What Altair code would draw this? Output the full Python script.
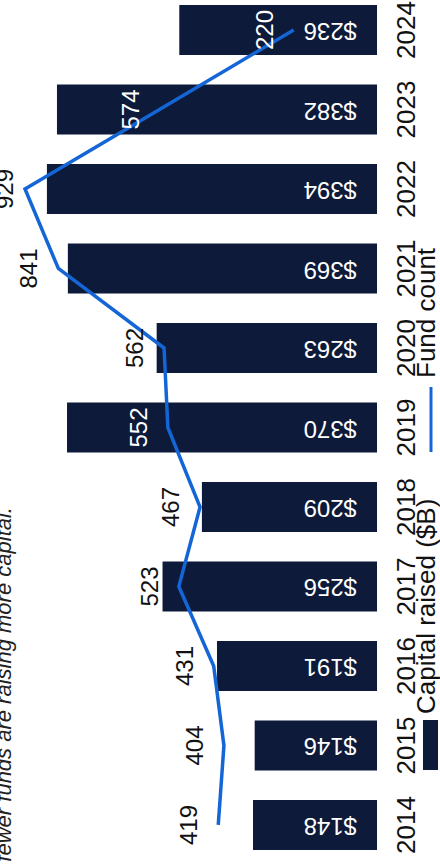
import altair as alt
import pandas as pd

# ---- data ----
years = ["2014", "2015", "2016", "2017", "2018", "2019", "2020", "2021", "2022", "2023", "2024"]
capital_raised = [148, 146, 191, 256, 209, 370, 263, 369, 394, 382, 236]
fund_count = [419, 404, 431, 523, 467, 552, 562, 841, 929, 574, 220]

legend_labels = ["Capital raised ($B)", "Fund count"]
note_text = "fewer funds are raising more capital."

# ---- layout / style ----
CAP_MAX = 445
COUNT_MAX = 995
LABEL_CLAMP = 905  # keep count labels inside the plot area
PLOT_W = 377
PLOT_H = 855
NAVY = "#0d1a39"
BLUE = "#1466d6"
FONT = "Liberation Sans"
INK = "#111111"

df = pd.DataFrame({"year": years, "capital": capital_raised, "funds": fund_count})

Y = alt.Y(
    "year:N",
    sort="descending",
    title=None,
    scale=alt.Scale(paddingInner=0.371, paddingOuter=0.063),
    axis=alt.Axis(
        orient="right", labelAngle=270, labelAlign="center", labelBaseline="top",
        labelPadding=16, ticks=False, domain=False, grid=False,
        labelFont=FONT, labelFontSize=26, labelColor=INK,
    ),
)

x_cap = alt.X("capital:Q", scale=alt.Scale(domain=[0, CAP_MAX], reverse=True), axis=None)
cnt_scale = alt.Scale(domain=[0, COUNT_MAX], reverse=True)
x_cnt = alt.X("funds:Q", scale=cnt_scale, axis=None)

base = alt.Chart(df)

bars = base.mark_bar(color=NAVY).encode(y=Y, x=x_cap)
bar_text = base.mark_text(
    angle=180, align="left", baseline="middle", dx=20,
    font=FONT, fontSize=24, color="white",
).encode(y=Y, x=alt.datum(0), text=alt.Text("capital:Q", format="$d"))

line = base.mark_line(color=BLUE, strokeWidth=3.5).encode(
    y=Y, x=x_cnt, order=alt.Order("year:O")
)
cnt_text = base.transform_calculate(
    inside=f"{PLOT_W}*(1-datum.funds/{COUNT_MAX}) - 22 > {PLOT_W}*(1-datum.capital/{CAP_MAX})",
    labpos=f"min(datum.funds, {LABEL_CLAMP})",
).mark_text(
    angle=270, align="center", baseline="alphabetic", dy=-21,
    font=FONT, fontSize=24,
).encode(
    y=Y,
    x=alt.X("labpos:Q", scale=cnt_scale, axis=None),
    text="funds:Q",
    color=alt.condition("datum.inside", alt.value("white"), alt.value(INK)),
)

one = pd.DataFrame({"k": [0]})
note = alt.Chart(one).mark_text(
    angle=270, align="right", baseline="alphabetic", font=FONT, fontSize=22,
    fontStyle="italic", color="#222222", text=note_text,
).encode(x=alt.value(11), y=alt.value(507))

leg_rect = alt.Chart(one).mark_rect(color=NAVY).encode(
    x=alt.value(423), x2=alt.value(438), y=alt.value(720), y2=alt.value(770)
)
leg_line = alt.Chart(one).mark_rule(color=BLUE, strokeWidth=3).encode(
    x=alt.value(431), y=alt.value(387), y2=alt.value(452)
)
leg_t1 = alt.Chart(one).mark_text(
    angle=270, align="left", baseline="alphabetic", font=FONT, fontSize=26,
    color=INK, text=legend_labels[0],
).encode(x=alt.value(435), y=alt.value(714))
leg_t2 = alt.Chart(one).mark_text(
    angle=270, align="left", baseline="alphabetic", font=FONT, fontSize=26,
    color=INK, text=legend_labels[1],
).encode(x=alt.value(435), y=alt.value(378))

chart = alt.layer(
    alt.layer(bars, bar_text),
    alt.layer(line, cnt_text),
    note, leg_rect, leg_line, leg_t1, leg_t2,
).resolve_scale(x="independent").properties(
    width=PLOT_W, height=PLOT_H,
    padding={"left": 0, "right": 63, "top": 0, "bottom": 10},
    autosize=alt.AutoSizeParams(type="none"),
    background="white",
).configure_view(stroke=None)

chart.save("out.html", embed_options={"renderer": "svg", "actions": False})
